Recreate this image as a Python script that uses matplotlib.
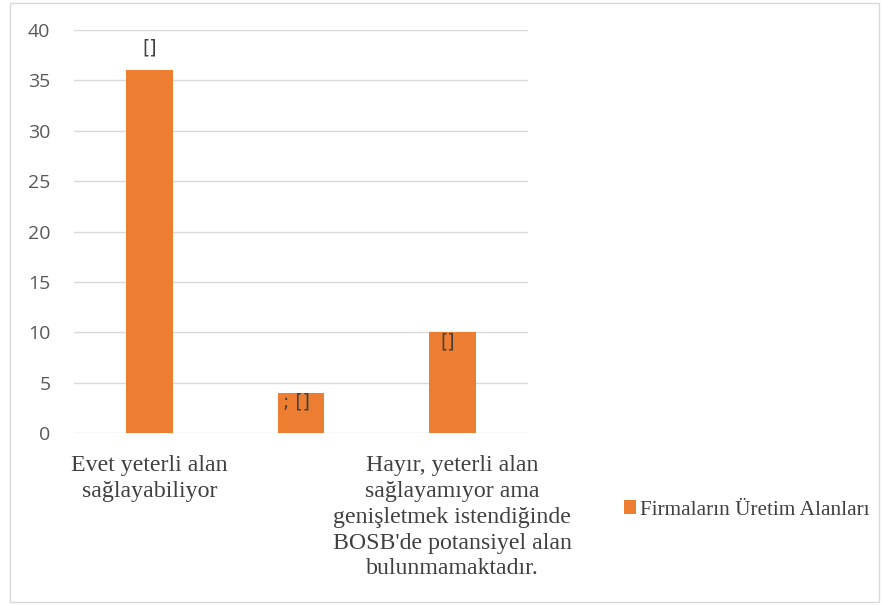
import numpy as np
from matplotlib import pyplot as plt
from matplotlib.patches import Rectangle, Patch

# Data
categories = ["Evet yeterli alan\nsağlayabiliyor",
              "",
              "Hayır, yeterli alan\nsağlayamıyor ama\ngenişletmek istendiğinde\nBOSB'de potansiyel alan\nbulunmamaktadır."]
values = [36, 4, 10]
bar_labels = ["[]", "; []", "[]"]
series_name = "Firmaların Üretim Alanları"
y_ticks = [0, 5, 10, 15, 20, 25, 30, 35, 40]

bar_color = '#ED7D31'
text_gray = '#595959'
grid_gray = '#D9D9D9'

fig = plt.figure(figsize=(8.82, 6.05), dpi=100)
ax = fig.add_axes([0.0839, 0.2843, 0.5147, 0.6661])

x = np.arange(len(values))
ax.bar(x, values, width=0.31, color=bar_color, zorder=3)

# Data labels
for i, (v, lab) in enumerate(zip(values, bar_labels)):
	if i == 0:
		ax.annotate(lab, (x[i], v), xytext=(0, 9), textcoords='offset points',
			ha='center', va='bottom', fontsize=13.5, color='#404040', family='DejaVu Sans')
	else:
		ax.annotate(lab, (x[i], v), xytext=(-3, 0), textcoords='offset points',
			ha='center', va='top', fontsize=13.5, color='#404040', family='DejaVu Sans')

ax.set_xlim(-0.5, 2.5)
ax.set_ylim(0, 40)
ax.set_yticks(y_ticks)
ax.set_yticklabels([str(t) for t in y_ticks], fontsize=14, color=text_gray, family='Open Sans')
ax.set_xticks(x)
ax.set_xticklabels(categories, fontsize=17.2, color='#404040', family='Liberation Serif', linespacing=1.3, va='top')
ax.tick_params(axis='both', length=0)
ax.tick_params(axis='y', pad=17)
ax.tick_params(axis='x', pad=16)
ax.grid(axis='y', color=grid_gray, linewidth=1, zorder=0)
for s in ax.spines.values():
	s.set_visible(False)

# Legend
handle = Patch(facecolor=bar_color, edgecolor='none')
leg = fig.legend([handle], [series_name], loc='center left', bbox_to_anchor=(0.686, 0.157),
	frameon=False, handlelength=0.55, handleheight=0.6, handletextpad=0.2,
	prop={'family': 'Liberation Serif', 'size': 15.3})
for t in leg.get_texts():
	t.set_color('#404040')

# Chart border
fig.patches.append(Rectangle((0.011, 0.005), 0.986, 0.99, transform=fig.transFigure,
	fill=False, edgecolor='#D9D9D9', linewidth=1))

fig.savefig('out.png', dpi=100)
